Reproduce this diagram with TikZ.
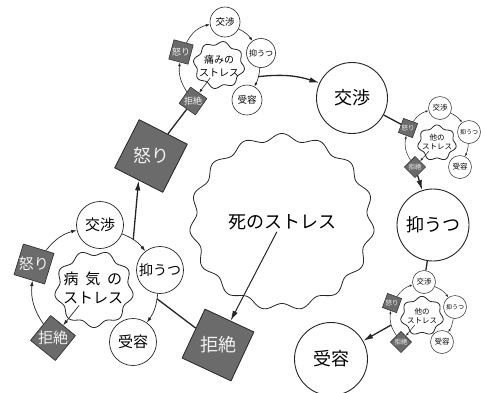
\documentclass[tikz,border=0pt]{standalone}
\usepackage{fontspec}
\setmainfont{Noto Sans CJK JP}
\usetikzlibrary{arrows.meta}
\newcommand\mywavy[7]{%
  \draw[cloudline] plot[domain=0:360,samples=361,variable=\t]
    ({#1+(#3+#6*sin(#5*\t+#7))*cos(\t)},{#2+(#4+#6*sin(#5*\t+#7))*sin(\t)}) -- cycle;}
\begin{document}
\begin{tikzpicture}[x=1pt,y=-1pt,line join=round,
  bigcirc/.style={circle,draw=black!85,line width=0.9pt,fill=white,inner sep=0pt,minimum size=71pt,font=\fontsize{18}{20}\selectfont},
  bigbox/.style={rectangle,draw=black!85,fill=black!58,line width=0.8pt,minimum size=54pt,inner sep=0pt},
  bigtxt/.style={inner sep=0pt,text=black!5,font=\fontsize{18}{20}\selectfont},
  circA/.style={circle,draw=black!85,line width=0.7pt,fill=white,inner sep=0pt,minimum size=47pt,font=\fontsize{15}{17}\selectfont},
  boxA/.style={rectangle,draw=black!85,fill=black!58,line width=0.6pt,minimum size=32pt,inner sep=0pt},
  txtA/.style={inner sep=0pt,text=black!5,font=\fontsize{15}{17}\selectfont},
  circB/.style={circle,draw=black!85,line width=0.6pt,fill=white,inner sep=0pt,minimum size=30pt,font=\fontsize{9.5}{11}\selectfont},
  boxB/.style={rectangle,draw=black!85,fill=black!58,line width=0.5pt,minimum size=20pt,inner sep=0pt},
  txtB/.style={inner sep=0pt,text=black!5,font=\fontsize{9}{10}\selectfont},
  circC/.style={circle,draw=black!85,line width=0.5pt,fill=white,inner sep=0pt,minimum size=23pt,font=\fontsize{7.5}{9}\selectfont},
  boxC/.style={rectangle,draw=black!85,fill=black!58,line width=0.5pt,minimum size=15pt,inner sep=0pt},
  txtC/.style={inner sep=0pt,text=black!5,font=\fontsize{6.5}{7}\selectfont},
  arrBig/.style={draw=black!85,line width=1.3pt,-{Latex[length=10pt,width=5.5pt]}},
  lnBig/.style={draw=black!85,line width=1.3pt},
  arrDeath/.style={draw=black!85,line width=1pt,-{Latex[length=10pt,width=5.5pt]}},
  arrA/.style={draw=black!85,line width=0.7pt,-{Latex[length=5.5pt,width=3.5pt]}},
  arrB/.style={draw=black!85,line width=0.6pt,-{Latex[length=4pt,width=2.8pt]}},
  arrC/.style={draw=black!85,line width=0.5pt,-{Latex[length=3pt,width=2.2pt]}},
  cloudline/.style={draw=black!85,line width=0.8pt},
  ctxt/.style={inner sep=1pt,align=center}]
\useasboundingbox (0,0) rectangle (485,392);
\fill[white] (0,0) rectangle (485,392);

% clouds
\mywavy{282}{222}{89}{85}{15}{3.5}{0}
\mywavy{94}{289}{37}{36}{9}{2.5}{0}
\mywavy{219}{65}{24}{22}{8}{1.8}{0}
\mywavy{437}{143}{18}{16.5}{7}{1.5}{0}
\mywavy{422}{316}{20}{18}{7}{1.6}{0}

% cloud texts
\node[ctxt,inner sep=2pt,font=\fontsize{18}{20}\selectfont] (death) at (282,222) {死のストレス};
\node[ctxt,font=\fontsize{15}{19}\selectfont] (cA) at (93,288) {病\hspace{0.45em}気\hspace{0.45em}の\\ストレス};
\node[ctxt,font=\fontsize{10}{12.5}\selectfont] (cB) at (219,66) {痛みの\\ストレス};
\node[ctxt,font=\fontsize{7.5}{9}\selectfont] (cC1) at (437,142) {他の\\ストレス};
\node[ctxt,font=\fontsize{7.5}{9}\selectfont] (cC2) at (422,316) {他の\\ストレス};

% big nodes
\node[bigcirc] (bKo) at (352,98) {交渉};
\node[bigcirc,minimum size=72pt] (bYo) at (433,225) {抑うつ};
\node[bigcirc,minimum size=73pt] (bJu) at (331,359) {受容};
\node[bigbox,rotate=-25] (bKy) at (218,345) {};
\node[bigtxt] (bKyT) at (bKy) {拒絶};
\node[bigbox,rotate=-27] (bIk) at (151,156) {};
\node[bigtxt] (bIkT) at (bIk) {怒り};

% cycle A (illness)
\node[circA] (kA) at (100,225) {交渉};
\node[circA,font=\fontsize{14}{16}\selectfont] (yA) at (160,270) {抑うつ};
\node[circA] (jA) at (133,342) {受容};
\node[boxA,rotate=-17] (iA) at (34,264) {};
\node[txtA] (iAT) at (iA) {怒り};
\node[boxA,rotate=-39] (rA) at (53,338) {};
\node[txtA] (rAT) at (rA) {拒絶};

% cycle B (pain)
\node[circB] (kB) at (225,22) {交渉};
\node[circB,minimum size=29pt,font=\fontsize{8}{9}\selectfont] (yB) at (261,53) {抑うつ};
\node[circB] (jB) at (247,100) {受容};
\node[boxB,rotate=-15] (iB) at (181,52) {};
\node[txtB] (iBT) at (iB) {怒り};
\node[boxB,rotate=-35] (rB) at (193,101) {};
\node[txtB] (rBT) at (rB) {拒絶};

% cycle C1 (other, top right)
\node[circC] (kC) at (440,108) {交渉};
\node[circC,font=\fontsize{6}{7}\selectfont] (yC) at (469,132) {抑うつ};
\node[circC] (jC) at (460,167) {受容};
\node[boxC,rotate=-20] (iC) at (408,128) {};
\node[txtC] (iCT) at (iC) {怒り};
\node[boxC,rotate=-45] (rC) at (415,167) {};
\node[txtC] (rCT) at (rC) {拒絶};

% cycle C2 (other, bottom right)
\node[circC] (kD) at (424,282) {交渉};
\node[circC,font=\fontsize{6}{7}\selectfont] (yD) at (455,307) {抑うつ};
\node[circC] (jD) at (442,342) {受容};
\node[boxC,rotate=-20] (iD) at (392,303) {};
\node[txtC] (iDT) at (iD) {怒り};
\node[boxC,rotate=-45] (rD) at (401,342) {};
\node[txtC] (rDT) at (rD) {拒絶};

% cycle A arcs
\draw[arrA] (rA) to[bend left=20] (iA);
\draw[arrA] (iA) to[bend left=18] (kA);
\draw[arrA] (kA) to[bend left=15] coordinate[pos=0.42] (xA) (yA);
\draw[arrA] (yA) to[bend left=15] coordinate[pos=0.15] (eA) (jA);
\draw[arrA] (cA) -- (rA);

% cycle B arcs
\draw[arrB] (rB) to[bend left=20] (iB);
\draw[arrB] (iB) to[bend left=25] (kB);
\draw[arrB] (kB) to[bend left=14] (yB);
\draw[arrB] (yB) to[bend left=12] coordinate[pos=0.45] (xB) (jB);
\draw[arrB] (cB) -- (rB);

% cycle C1 arcs
\draw[arrC] (rC) to[bend left=23] (iC);
\draw[arrC] (iC) to[bend left=19] (kC);
\draw[arrC] (kC) to[bend left=14] (yC);
\draw[arrC] (yC) to[bend left=11] (jC);
\draw[arrC] (cC1) -- (rC);

% cycle C2 arcs
\draw[arrC] (rD) to[bend left=22] coordinate[pos=0.45] (xD) (iD);
\draw[arrC] (iD) to[bend left=19] (kD);
\draw[arrC] (kD) to[bend left=16] (yD);
\draw[arrC] (yD) to[bend left=12] (jD);
\draw[arrC] (cC2) -- (rD);

% main chain
\draw[arrDeath] (death) -- (bKy);
\draw[lnBig] (eA) -- (bKy);
\draw[arrBig] (xA) -- (bIk.south);
\draw[lnBig] (bIk) -- (rB);
\draw[arrBig] (xB) to[bend left=12] (bKo);
\draw[lnBig] (bKo) -- (iC);
\draw[arrBig] (rC) -- (bYo);
\draw[lnBig] (bYo) -- (kD);
\draw[arrBig] (xD) -- (bJu);
\end{tikzpicture}
\end{document}
